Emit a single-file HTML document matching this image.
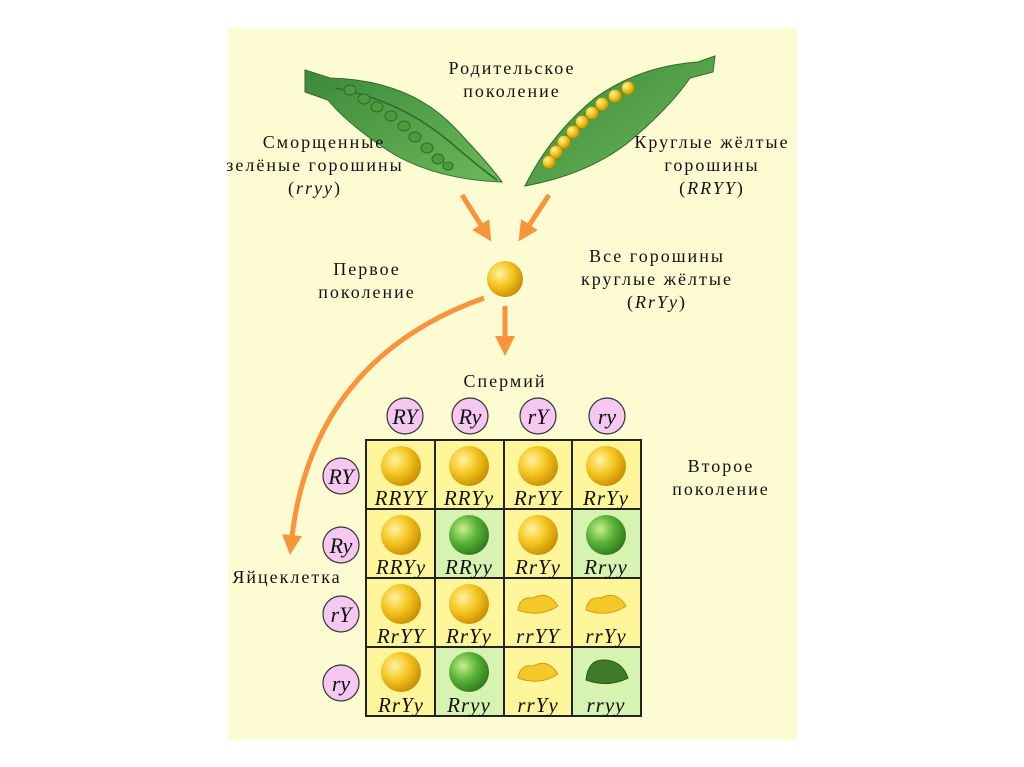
<!DOCTYPE html>
<html><head><meta charset="utf-8"><style>
html,body{margin:0;padding:0;background:#fff;}
svg{display:block}
text{font-family:"Liberation Serif","Noto Serif CJK SC",serif;fill:#111}
.i{font-style:italic}
</style></head><body>
<svg width="1024" height="767" viewBox="0 0 1024 767" xmlns="http://www.w3.org/2000/svg">
<defs>
<radialGradient id="yp" cx="35%" cy="35%" r="70%"><stop offset="0" stop-color="#fff3a0"/><stop offset="0.5" stop-color="#f5c623"/><stop offset="1" stop-color="#c98e00"/></radialGradient>
<radialGradient id="gp" cx="35%" cy="35%" r="70%"><stop offset="0" stop-color="#c8f08a"/><stop offset="0.5" stop-color="#5cb43a"/><stop offset="1" stop-color="#2e7a1c"/></radialGradient>
<linearGradient id="pod" x1="0" y1="0" x2="1" y2="1"><stop offset="0" stop-color="#3c8a3a"/><stop offset="1" stop-color="#6cb85a"/></linearGradient>
<marker id="ah" markerWidth="4" markerHeight="4" refX="2" refY="2" orient="auto" markerUnits="strokeWidth"><path d="M0,0 L4,2 L0,4 Z" fill="#f7943c"/></marker>
</defs>
<rect x="228" y="28" width="569" height="712" fill="#fcfbd2"/>
<!-- left pod -->
<path d="M305,70 L330,78 Q410,80 455,128 Q490,165 502,182 Q440,180 395,155 Q348,125 328,100 L305,92 Z" fill="url(#pod)" stroke="#2d6b2a" stroke-width="1"/>
<path d="M335,88 Q400,100 450,142 Q480,168 497,180" fill="none" stroke="#2d6b2a" stroke-width="1.5"/>
<g fill="#4f9a3c" stroke="#2d6b2a" stroke-width="1">
<ellipse cx="350" cy="90" rx="6" ry="5"/><ellipse cx="364" cy="99" rx="6" ry="5"/><ellipse cx="377" cy="107" rx="6" ry="5"/><ellipse cx="391" cy="116" rx="6" ry="5"/><ellipse cx="404" cy="126" rx="6" ry="5"/><ellipse cx="415" cy="137" rx="6" ry="5"/><ellipse cx="427" cy="148" rx="6" ry="5"/><ellipse cx="438" cy="159" rx="6" ry="5"/><ellipse cx="448" cy="166" rx="5" ry="4"/></g>
<!-- right pod -->
<path d="M715,56 L698,62 Q640,66 595,98 Q550,135 525,186 Q585,175 625,145 Q668,110 690,78 L713,72 Z" fill="url(#pod)" stroke="#2d6b2a" stroke-width="1"/>
<g fill="url(#yp)" stroke="#9a8a10" stroke-width="0.5">
<circle cx="628" cy="88" r="6.5"/><circle cx="615" cy="96" r="6.5"/><circle cx="602" cy="104" r="6.5"/><circle cx="592" cy="113" r="6.5"/><circle cx="582" cy="122" r="6.5"/><circle cx="573" cy="132" r="6.5"/><circle cx="564" cy="142" r="6.5"/><circle cx="556" cy="152" r="6.5"/><circle cx="549" cy="162" r="6.5"/></g>
<!-- labels -->
<g font-size="18" text-anchor="middle" letter-spacing="2">
<text x="512" y="74">Родительское</text><text x="512" y="97">поколение</text>
<text x="324" y="148">Сморщенные</text><text x="315" y="171">зелёные горошины</text><text x="315" y="194">(<tspan class="i">rryy</tspan>)</text>
<text x="712" y="148">Круглые жёлтые</text><text x="712" y="171">горошины</text><text x="712" y="194">(<tspan class="i">RRYY</tspan>)</text>
<text x="367" y="275">Первое</text><text x="367" y="298">поколение</text>
<text x="657" y="262">Все горошины</text><text x="657" y="285">круглые жёлтые</text><text x="657" y="308">(<tspan class="i">RrYy</tspan>)</text>
<text x="505" y="387">Спермий</text>
<text x="721" y="472">Второе</text><text x="721" y="495">поколение</text>
<text x="287" y="583">Яйцеклетка</text>
</g>
<!-- arrows -->
<g stroke="#f7943c" stroke-width="5" fill="none" stroke-linecap="butt">
<path d="M462,195 L486,233" marker-end="url(#ah)"/>
<path d="M549,195 L524,233" marker-end="url(#ah)"/>
<path d="M505,306 L505,346" marker-end="url(#ah)"/>
<path d="M484,298 Q310,360 291,545" marker-end="url(#ah)"/>
</g>
<circle cx="505" cy="279" r="18" fill="url(#yp)"/>
<!-- gamete circles -->
<g fill="#f4c8f0" stroke="#333" stroke-width="1.2">
<circle cx="405" cy="416" r="18"/><circle cx="470" cy="416" r="18"/><circle cx="538" cy="416" r="18"/><circle cx="607" cy="416" r="18"/>
<circle cx="341" cy="476" r="18"/><circle cx="341" cy="545" r="18"/><circle cx="341" cy="614" r="18"/><circle cx="341" cy="683" r="18"/>
</g>
<g font-size="22" class="i" text-anchor="middle">
<text x="405" y="424">RY</text><text x="470" y="424">Ry</text><text x="538" y="424">rY</text><text x="607" y="424">ry</text>
<text x="341" y="484">RY</text><text x="341" y="553">Ry</text><text x="341" y="622">rY</text><text x="341" y="691">ry</text>
</g>
<!-- grid -->
<g stroke="#222" stroke-width="2">
<rect x="366" y="440" width="69" height="69" fill="#fff59a"/><rect x="435" y="440" width="69" height="69" fill="#fff59a"/><rect x="504" y="440" width="68" height="69" fill="#fff59a"/><rect x="572" y="440" width="69" height="69" fill="#fff59a"/>
<rect x="366" y="509" width="69" height="69" fill="#fff59a"/><rect x="435" y="509" width="69" height="69" fill="#d6f3b2"/><rect x="504" y="509" width="68" height="69" fill="#fff59a"/><rect x="572" y="509" width="69" height="69" fill="#d6f3b2"/>
<rect x="366" y="578" width="69" height="69" fill="#fff59a"/><rect x="435" y="578" width="69" height="69" fill="#fff59a"/><rect x="504" y="578" width="68" height="69" fill="#fff59a"/><rect x="572" y="578" width="69" height="69" fill="#fff59a"/>
<rect x="366" y="647" width="69" height="69" fill="#fff59a"/><rect x="435" y="647" width="69" height="69" fill="#d6f3b2"/><rect x="504" y="647" width="68" height="69" fill="#fff59a"/><rect x="572" y="647" width="69" height="69" fill="#d6f3b2"/>
</g>
<g>
<circle cx="401" cy="466" r="20" fill="url(#yp)"/><circle cx="469" cy="466" r="20" fill="url(#yp)"/><circle cx="538" cy="466" r="20" fill="url(#yp)"/><circle cx="606" cy="466" r="20" fill="url(#yp)"/>
<circle cx="401" cy="535" r="20" fill="url(#yp)"/><circle cx="469" cy="535" r="20" fill="url(#gp)"/><circle cx="538" cy="535" r="20" fill="url(#yp)"/><circle cx="606" cy="535" r="20" fill="url(#gp)"/>
<circle cx="401" cy="604" r="20" fill="url(#yp)"/><circle cx="469" cy="604" r="20" fill="url(#yp)"/>
<path d="M518,610 Q520,596 533,598 Q548,590 558,606 Q540,618 518,610Z" fill="#f5c82a" stroke="#d89a10"/>
<path d="M586,610 Q588,596 601,598 Q616,590 626,606 Q608,618 586,610Z" fill="#f5c82a" stroke="#d89a10"/>
<circle cx="401" cy="672" r="20" fill="url(#yp)"/><circle cx="469" cy="672" r="20" fill="url(#gp)"/>
<path d="M518,678 Q520,664 533,666 Q548,658 558,674 Q540,686 518,678Z" fill="#f5c82a" stroke="#d89a10"/>
<path d="M586,680 Q588,660 603,660 Q622,660 628,678 Q608,688 586,680Z" fill="#3e7a2a" stroke="#2a5a1a"/>
</g>
<g font-size="21" class="i" text-anchor="middle" letter-spacing="1">
<text x="401" y="505">RRYY</text><text x="469" y="505">RRYy</text><text x="538" y="505">RrYY</text><text x="606" y="505">RrYy</text>
<text x="401" y="574">RRYy</text><text x="469" y="574">RRyy</text><text x="538" y="574">RrYy</text><text x="606" y="574">Rryy</text>
<text x="401" y="643">RrYY</text><text x="469" y="643">RrYy</text><text x="538" y="643">rrYY</text><text x="606" y="643">rrYy</text>
<text x="401" y="712">RrYy</text><text x="469" y="712">Rryy</text><text x="538" y="712">rrYy</text><text x="606" y="712">rryy</text>
</g>
</svg>
</body></html>
